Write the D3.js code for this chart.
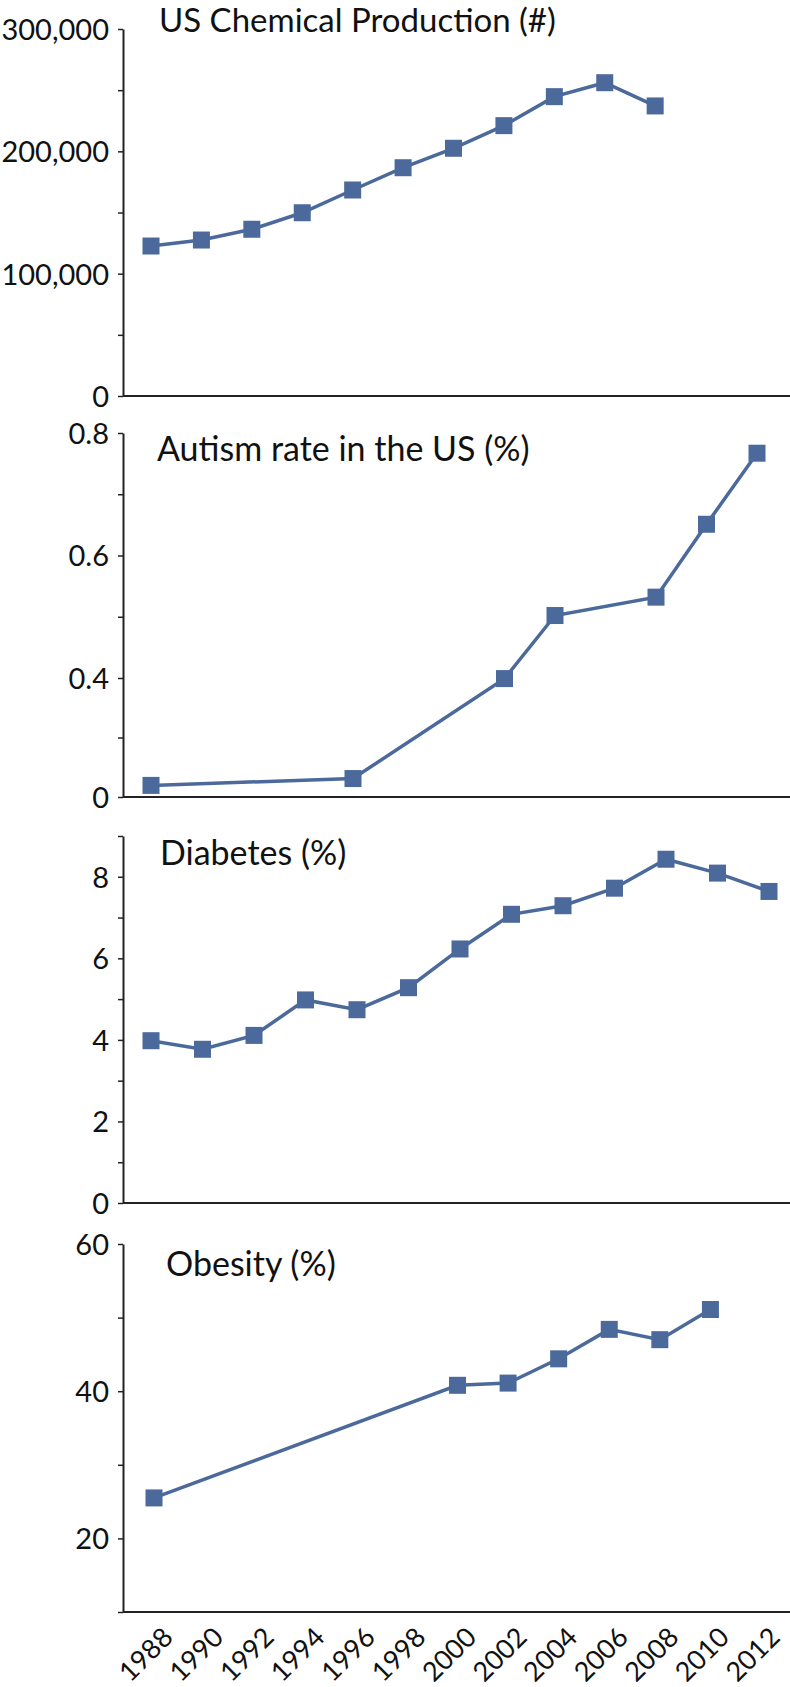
<!DOCTYPE html>
<html>
<head>
<meta charset="utf-8">
<script src="https://cdn.jsdelivr.net/npm/d3@7"></script>
<style>
  html, body { margin: 0; padding: 0; background: #fff; }
  svg { display: block; }
  .tick text { font-family: Lato, "Noto Sans", sans-serif; fill: #111; }
  .title { font-family: Lato, "Noto Sans", sans-serif; fill: #111; }
</style>
</head>
<body>
<div id="chart"></div>
<script>
// --- DATA ---
const chemYears = [1988, 1990, 1992, 1994, 1996, 1998, 2000, 2002, 2004, 2006, 2008];
const chemValues = [122600, 127500, 136300, 149800, 168400, 186600, 202500, 221000, 244700, 256100, 237100];

const autismYears = [1988, 1996, 2002, 2004, 2008, 2010, 2012];
const autismValues = [0.039, 0.062, 0.398, 0.502, 0.532, 0.651, 0.767];

const diabetesYears = [1988, 1990, 1992, 1994, 1996, 1998, 2000, 2002, 2004, 2006, 2008, 2010, 2012];
const diabetesValues = [3.98, 3.77, 4.11, 4.98, 4.74, 5.28, 6.23, 7.08, 7.29, 7.72, 8.43, 8.09, 7.64];

const obesityYears = [1988, 2000, 2002, 2004, 2006, 2008, 2010];
const obesityValues = [25.5, 40.8, 41.1, 44.4, 48.4, 47.0, 51.1];

const xTickYears = [1988, 1990, 1992, 1994, 1996, 1998, 2000, 2002, 2004, 2006, 2008, 2010, 2012];

// --- LAYOUT ---
const width = 790, height = 1687;
const axisX = 123;
const markColor = "#4b6a9b";
const markSize = 17;

const panels = [
  {
    title: "US Chemical Production (#)", titleX: 159, titleY: 32, titleSize: 33,
    years: chemYears, values: chemValues,
    domain: [0, 300000], range: [396, 29],
    ticks: [0, 50000, 100000, 150000, 200000, 250000, 300000],
    labels: [0, 100000, 200000, 300000], fmt: d3.format(","),
    xEnd: 756
  },
  {
    title: "Autism rate in the US (%)", titleX: 157, titleY: 461,
    years: autismYears, values: autismValues,
    // the reference axis is compressed below 0.4
    domain: [0, 0.4, 0.8], range: [797, 678, 433],
    ticks: [0, 0.2, 0.4, 0.5, 0.6, 0.7, 0.8],
    labels: [0, 0.4, 0.6, 0.8], fmt: d => d === 0 ? "0" : d3.format(".1f")(d),
    xEnd: 757
  },
  {
    title: "Diabetes (%)", titleX: 160, titleY: 865,
    years: diabetesYears, values: diabetesValues,
    domain: [0, 9], range: [1203, 836],
    ticks: [0, 1, 2, 3, 4, 5, 6, 7, 8, 9],
    labels: [0, 2, 4, 6, 8], fmt: d3.format("d"),
    xEnd: 769
  },
  {
    title: "Obesity (%)", titleX: 166, titleY: 1276,
    years: obesityYears, values: obesityValues,
    domain: [10, 60], range: [1612, 1244],
    ticks: [10, 20, 30, 40, 50, 60],
    labels: [20, 40, 60], fmt: d3.format("d"),
    xEnd: 761, xStart: 154
  }
];

const svg = d3.select("#chart").append("svg")
  .attr("width", width)
  .attr("height", height);

panels.forEach((p, i) => {
  const x = d3.scaleLinear().domain([1988, 2012]).range([p.xStart || 151, p.xEnd]);
  const y = d3.scaleLinear().domain(p.domain).range(p.range);
  const g = svg.append("g");

  // y axis with minor ticks (unlabelled)
  const yAxis = d3.axisLeft(y)
    .tickValues(p.ticks)
    .tickSize(5)
    .tickSizeOuter(0)
    .tickPadding(9)
    .tickFormat(d => p.labels.includes(d) ? p.fmt(d) : "");
  const ya = g.append("g")
    .attr("transform", `translate(${axisX},0)`)
    .call(yAxis);
  ya.select(".domain").attr("stroke", "#222").attr("stroke-width", 2);
  ya.selectAll(".tick line").attr("stroke", "#222").attr("stroke-width", 1.5);
  ya.selectAll(".tick text").style("font-size", "29px").attr("dy", "0.36em");

  // x baseline running to the right edge
  const base = p.range[0];
  g.append("line")
    .attr("x1", axisX).attr("x2", width)
    .attr("y1", base).attr("y2", base)
    .attr("stroke", "#222").attr("stroke-width", 2);

  // line + square markers
  const pts = p.years.map((yr, k) => [yr, p.values[k]]);
  g.append("path")
    .datum(pts)
    .attr("fill", "none")
    .attr("stroke", markColor)
    .attr("stroke-width", 3.5)
    .attr("d", d3.line().x(d => x(d[0])).y(d => y(d[1])));

  g.selectAll("rect.mk")
    .data(pts)
    .enter()
    .append("rect")
    .attr("class", "mk")
    .attr("x", d => x(d[0]) - markSize / 2)
    .attr("y", d => y(d[1]) - markSize / 2)
    .attr("width", markSize)
    .attr("height", markSize)
    .attr("fill", markColor);

  // panel title
  g.append("text")
    .attr("class", "title")
    .attr("x", p.titleX)
    .attr("y", p.titleY)
    .style("font-size", (p.titleSize || 34) + "px")
    .text(p.title);

  // year labels under the last panel
  if (i === panels.length - 1) {
    const xa = g.append("g")
      .attr("transform", `translate(0,${base})`)
      .call(d3.axisBottom(x).tickValues(xTickYears).tickSize(0).tickFormat(d3.format("d")));
    xa.select(".domain").remove();
    xa.selectAll(".tick text")
      .attr("x", 0).attr("y", 0).attr("dy", 0)
      .attr("text-anchor", "end")
      .attr("transform", "translate(20,27) rotate(-45)")
      .style("font-size", "27px");
  }
});
</script>
</body>
</html>
